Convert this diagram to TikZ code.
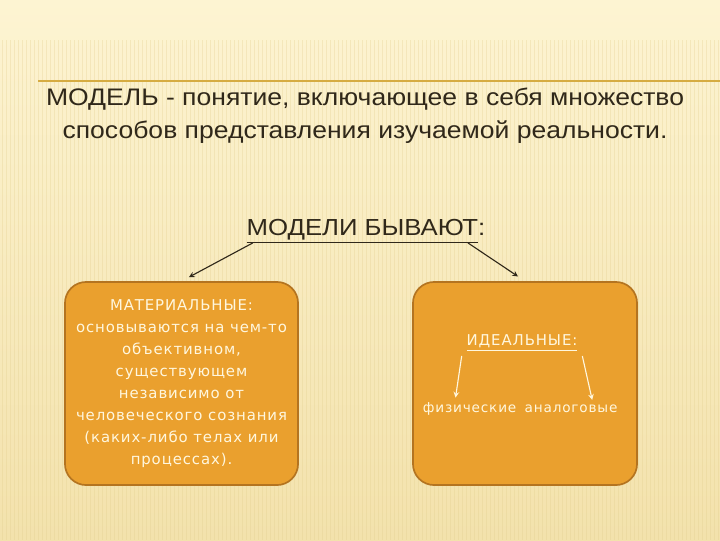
\documentclass[tikz,border=0pt]{standalone}
\usepackage{fontspec}
\setmainfont{Liberation Sans}
\newfontfamily\narrowfont[FakeStretch=1.11]{Liberation Sans}
\newfontfamily\boxfont[LetterSpace=6]{DejaVu Sans}
\definecolor{paper}{RGB}{253,244,210}
\definecolor{paperdark}{RGB}{243,226,172}
\definecolor{stripe}{RGB}{226,205,140}
\definecolor{rulecol}{RGB}{214,172,66}
\definecolor{ink}{RGB}{48,40,26}
\definecolor{boxfill}{RGB}{234,160,46}
\definecolor{boxedge}{RGB}{180,116,32}
\definecolor{boxtext}{RGB}{255,247,222}
\tikzset{
    kind/.style = {draw=boxedge, line width=1.2pt, fill=boxfill, rounded corners=15pt},
    boxtxt/.style = {text=boxtext, font=\boxfont\fontsize{10.6}{15.6}\selectfont, align=center},
    wordtxt/.style = {text=boxtext, font=\boxfont\fontsize{9.7}{12}\selectfont, inner sep=1pt}
}
\begin{document}
\begin{tikzpicture}[x=0.025cm, y=-0.025cm, >=stealth]
        \useasboundingbox (0,0) rectangle (720,540);
        \shade[top color=paper, bottom color=paperdark] (0,0) rectangle (720,540);
        \foreach \x in {2,6,...,720}
            \draw[stripe, opacity=0.3, line width=0.4pt] (\x,40) -- (\x,540);
        \draw[rulecol, line width=0.8pt] (38,81) -- (720,81);
        \node[text=ink, font=\narrowfont\fontsize{17}{23.5}\selectfont, align=center] (def) at (365,116)
            {МОДЕЛЬ - понятие, включающее в себя множество\\способов представления изучаемой реальности.};
        \node[text=ink, font=\narrowfont\fontsize{16.5}{18}\selectfont] (types) at (366,231) {\underline{МОДЕЛИ БЫВАЮТ}:};
        \node[kind, minimum width=5.825cm, minimum height=5.075cm, boxtxt] (mat) at (181.5,383.5)
            {МАТЕРИАЛЬНЫЕ:\\основываются на чем-то\\объективном,\\существующем\\независимо от\\человеческого сознания\\(каких-либо телах или\\процессах).};
        \node[kind, minimum width=5.6cm, minimum height=5.075cm] (ideal) at (525,383.5) {};
        \node[boxtxt] (idealname) at (522,343) {\underline{ИДЕАЛЬНЫЕ:}};
        \node[wordtxt, anchor=base east] (phys) at (518,412) {физические};
        \node[wordtxt, anchor=base west] (analog) at (523,412) {аналоговые};
        \draw[->, ink, thick, shorten >=6pt] ([xshift=8pt, yshift=3.5pt]types.south west) -- (mat.north);
        \draw[->, ink, thick, shorten >=6pt] ([xshift=-16pt, yshift=3.5pt]types.south east) -- (ideal.north);
        \draw[->, boxtext, thick] (idealname.south west) -- ([xshift=-10pt, yshift=2pt]phys.north);
        \draw[->, boxtext, thick] (idealname.south east) -- ([xshift=15pt, yshift=2pt]analog.north);
    \end{tikzpicture}
\end{document}
